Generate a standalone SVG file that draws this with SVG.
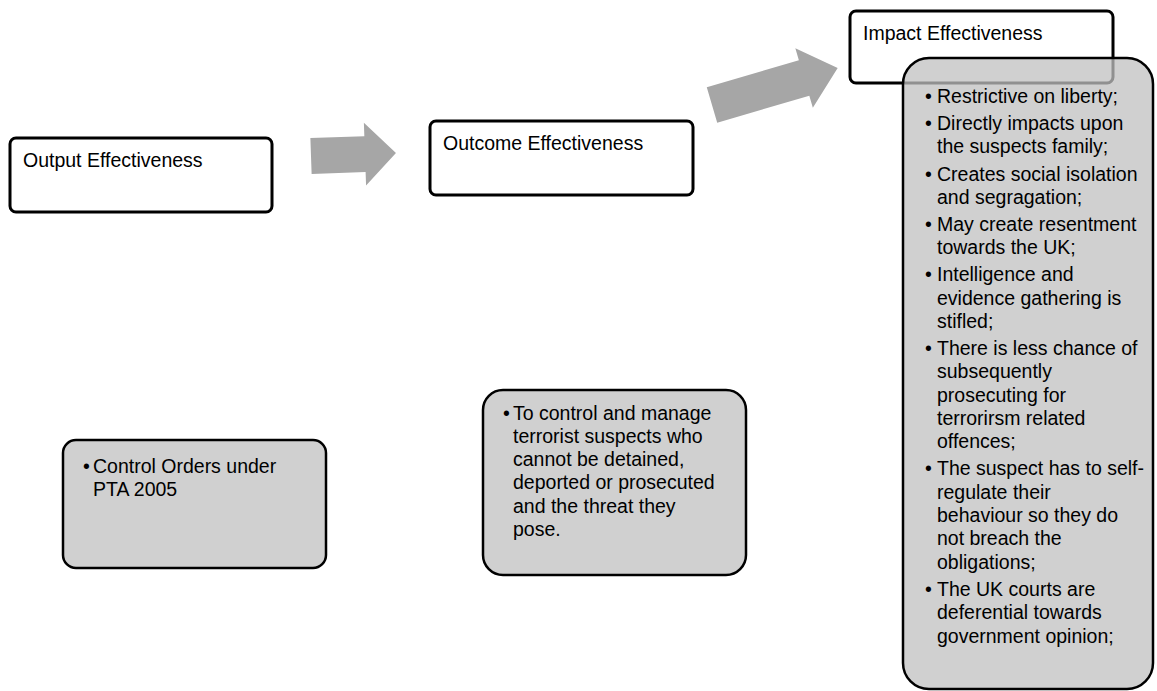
<svg xmlns="http://www.w3.org/2000/svg" width="1157" height="691" viewBox="0 0 1157 691">
<style>
text{font-family:"Liberation Sans",Arial,sans-serif;font-size:19.5px;fill:#000}
.hdr{fill:#fff;stroke:#000;stroke-width:3}
.grey{fill:#c0c0c0;fill-opacity:0.75;stroke:#000;stroke-width:2.5}
.arrow{fill:#a6a6a6;stroke:none}
</style>
<rect width="1157" height="691" fill="#fff"/>
<g id="connectors">
<polygon class="arrow" transform="translate(311,156) rotate(-2)" points="0,-18 54,-18 54,-31.5 85,0 54,31.5 54,18 0,18"/>
<polygon class="arrow" transform="translate(712,105) rotate(-16.4)" points="0,-18.5 96,-18.5 96,-31 131,0 96,31 96,18.5 0,18.5"/>
</g>
<g id="output">
<rect class="hdr" x="10" y="138" width="262" height="74" rx="6"/>
<text x="23" y="167">Output Effectiveness</text>
</g>
<g id="outcome">
<rect class="hdr" x="430" y="121" width="263" height="74" rx="6"/>
<text x="443" y="150">Outcome Effectiveness</text>
</g>
<g id="impact">
<rect class="hdr" x="850" y="11" width="263" height="72" rx="6"/>
<text x="863" y="40">Impact Effectiveness</text>
</g>
<g id="control">
<rect class="grey" x="63" y="440" width="263" height="128" rx="13"/>
<text x="83" y="473">•</text>
<text x="93" y="473">Control Orders under</text>
<text x="93" y="496">PTA 2005</text>
</g>
<g id="purpose">
<rect class="grey" x="483" y="390" width="263" height="185" rx="20"/>
<text x="503" y="420">•</text>
<text x="513"><tspan x="513" y="420">To control and manage</tspan><tspan x="513" y="443">terrorist suspects who</tspan><tspan x="513" y="466">cannot be detained,</tspan><tspan x="513" y="489">deported or prosecuted</tspan><tspan x="513" y="513">and the threat they</tspan><tspan x="513" y="536">pose.</tspan></text>
</g>
<g id="impacts">
<rect class="grey" x="903" y="58" width="250" height="631" rx="26"/>
<g>
<text x="925" y="103">•</text>
<text x="925" y="130">•</text>
<text x="925" y="181">•</text>
<text x="925" y="231">•</text>
<text x="925" y="281">•</text>
<text x="925" y="355">•</text>
<text x="925" y="475">•</text>
<text x="925" y="596">•</text>
</g>
<text x="937"><tspan x="937" y="103">Restrictive on liberty;</tspan><tspan x="937" y="130">Directly impacts upon</tspan><tspan x="937" y="153">the suspects family;</tspan><tspan x="937" y="181">Creates social isolation</tspan><tspan x="937" y="204">and segragation;</tspan><tspan x="937" y="231">May create resentment</tspan><tspan x="937" y="254">towards the UK;</tspan><tspan x="937" y="281">Intelligence and</tspan><tspan x="937" y="305">evidence gathering  is</tspan><tspan x="937" y="328">stifled;</tspan><tspan x="937" y="355">There is less chance of</tspan><tspan x="937" y="378">subsequently</tspan><tspan x="937" y="402">prosecuting for</tspan><tspan x="937" y="425">terrorirsm related</tspan><tspan x="937" y="448">offences;</tspan><tspan x="937" y="475">The suspect has to self-</tspan><tspan x="937" y="499">regulate their</tspan><tspan x="937" y="522">behaviour so they do</tspan><tspan x="937" y="545">not breach the</tspan><tspan x="937" y="569">obligations;</tspan><tspan x="937" y="596">The UK courts are</tspan><tspan x="937" y="619">deferential towards</tspan><tspan x="937" y="643">government opinion;</tspan></text>
</g>
</svg>
